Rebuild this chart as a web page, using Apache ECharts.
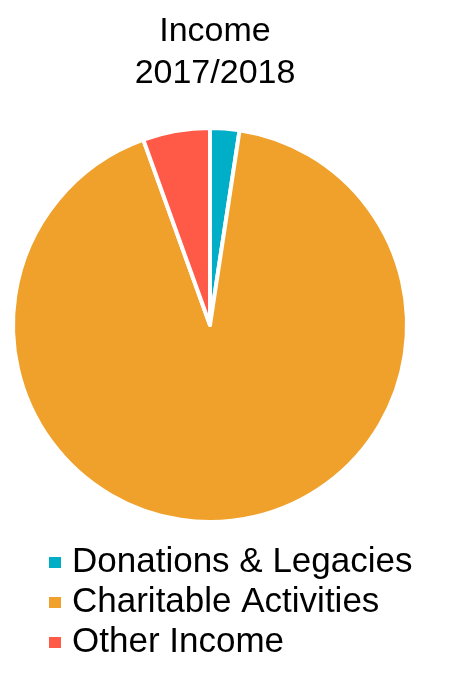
<!DOCTYPE html>
<html><head><meta charset="utf-8">
<script src="https://cdn.jsdelivr.net/npm/echarts@6/dist/echarts.min.js"></script>
<style>html,body{margin:0;padding:0;background:#fff}#c{width:453px;height:675px}</style>
</head><body><div id="c"></div>
<script>
const categories = ["Donations & Legacies", "Charitable Activities", "Other Income"];
const values = [2.4, 92.1, 5.5];
const colors = ["#00AEC7", "#EFA12B", "#FF5A48"];
const titleText = "Income\n2017/2018";

const chart = echarts.init(document.getElementById('c'), null, {renderer: 'canvas'});
chart.setOption({
  animation: false,
  title: {
    text: titleText, left: 210, top: 6, textAlign: 'center',
    textStyle: {fontFamily: 'Liberation Sans', fontSize: 34, fontWeight: 'normal', color: '#000', lineHeight: 42}
  },
  legend: {
    orient: 'vertical', left: 42, top: 540, itemWidth: 14, itemHeight: 13, itemGap: 5,
    icon: 'rect', data: categories,
    textStyle: {fontFamily: 'Liberation Sans', fontSize: 35, color: '#000', lineHeight: 34, padding: [0,0,0,5]}
  },
  series: [{
    type: 'pie', center: [210, 325], radius: [0, 197], startAngle: 90, clockwise: true,
    label: {show: false}, labelLine: {show: false},
    itemStyle: {borderColor: '#fff', borderWidth: 4},
    emphasis: {disabled: true},
    data: categories.map((c, i) => ({name: c, value: values[i], itemStyle: {color: colors[i]}}))
  }]
});
</script></body></html>
